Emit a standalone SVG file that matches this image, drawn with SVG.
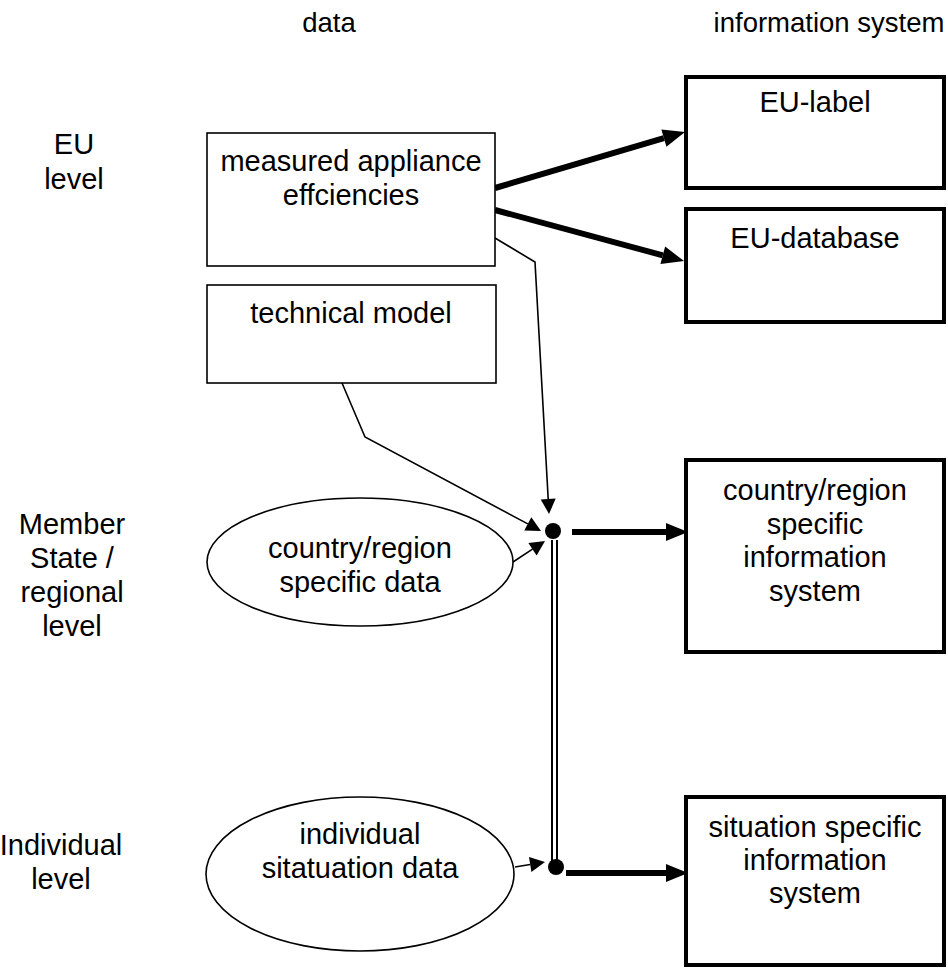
<svg xmlns="http://www.w3.org/2000/svg" width="948" height="968" viewBox="0 0 948 968">
<style>
text{font-family:"Liberation Sans",Arial,sans-serif;font-size:29px;fill:#000;text-anchor:middle}
.hdr{font-size:27.5px}
.src{fill:#fff;stroke:#000;stroke-width:1.6}
.sys{fill:#fff;stroke:#000;stroke-width:4}
.thick{fill:none;stroke:#000;stroke-width:6}
.thin{fill:none;stroke:#000;stroke-width:1.6}
</style>
<defs>
<marker id="ahThick" markerUnits="userSpaceOnUse" viewBox="0 -10 22 20" markerWidth="22" markerHeight="20" refX="0" refY="0" orient="auto" overflow="visible">
<path d="M0,-9 L22,0 L0,9 z" fill="#000"/>
</marker>
<marker id="ahThin" markerUnits="userSpaceOnUse" viewBox="0 -8 15 16" markerWidth="15" markerHeight="16" refX="0" refY="0" orient="auto" overflow="visible">
<path d="M0,-7.5 L15,0 L0,7.5 z" fill="#000"/>
</marker>
</defs>
<rect width="948" height="968" fill="#fff"/>

<g id="headers">
<text class="hdr" x="329" y="32">data</text>
<text class="hdr" x="829" y="32">information system</text>
</g>
<g id="levels">
<text x="74" y="154">EU</text>
<text x="74" y="189">level</text>
<text x="72" y="534">Member</text>
<text x="72" y="568">State /</text>
<text x="72" y="602">regional</text>
<text x="72" y="636">level</text>
<text x="61" y="855">Individual</text>
<text x="61" y="889">level</text>
</g>

<g id="connectors">
<path class="thick" d="M495,188 L663.9,138.2" marker-end="url(#ahThick)"/>
<path class="thick" d="M495,210 L662.8,255.3" marker-end="url(#ahThick)"/>
<path class="thin" d="M495,238 L535,262 L548.2,499" marker-end="url(#ahThin)"/>
<path class="thin" d="M342,383 L365,437 L527.8,523.9" marker-end="url(#ahThin)"/>
<path class="thin" d="M513,562 L532.5,549.2" marker-end="url(#ahThin)"/>
<path class="thin" d="M515,867 L530.2,864.5" marker-end="url(#ahThin)"/>
<path d="M554.5,540 L554.5,862" stroke="#000" stroke-width="7" fill="none"/>
<path d="M554.5,540 L554.5,862" stroke="#fff" stroke-width="3" fill="none"/>
<circle cx="553" cy="531" r="8" fill="#000"/>
<circle cx="556" cy="867" r="8" fill="#000"/>
<path class="thick" d="M572,532 L666,532" marker-end="url(#ahThick)"/>
<path class="thick" d="M566,873 L666,873" marker-end="url(#ahThick)"/>
</g>

<g id="measured">
<rect class="src" x="207" y="133" width="288" height="133"/>
<text x="351" y="171">measured appliance</text>
<text x="351" y="205">effciencies</text>
</g>
<g id="technical">
<rect class="src" x="207" y="285" width="289" height="98"/>
<text x="351" y="323">technical model</text>
</g>
<g id="countrydata">
<ellipse class="src" cx="360" cy="562" rx="153" ry="64"/>
<text x="360" y="558">country/region</text>
<text x="360" y="592">specific data</text>
</g>
<g id="individualdata">
<ellipse class="src" cx="360" cy="874" rx="154" ry="77"/>
<text x="360" y="844">individual</text>
<text x="360" y="878">sitatuation data</text>
</g>
<g id="eulabel">
<rect class="sys" x="686" y="77" width="258" height="111"/>
<text x="815" y="112">EU-label</text>
</g>
<g id="eudatabase">
<rect class="sys" x="686" y="209" width="258" height="113"/>
<text x="815" y="248">EU-database</text>
</g>
<g id="countrysys">
<rect class="sys" x="686" y="460" width="258" height="192"/>
<text x="815" y="500">country/region</text>
<text x="815" y="534">specific</text>
<text x="815" y="567">information</text>
<text x="815" y="601">system</text>
</g>
<g id="situationsys">
<rect class="sys" x="686" y="797" width="258" height="168"/>
<text x="815" y="837">situation specific</text>
<text x="815" y="870">information</text>
<text x="815" y="903">system</text>
</g>
</svg>
